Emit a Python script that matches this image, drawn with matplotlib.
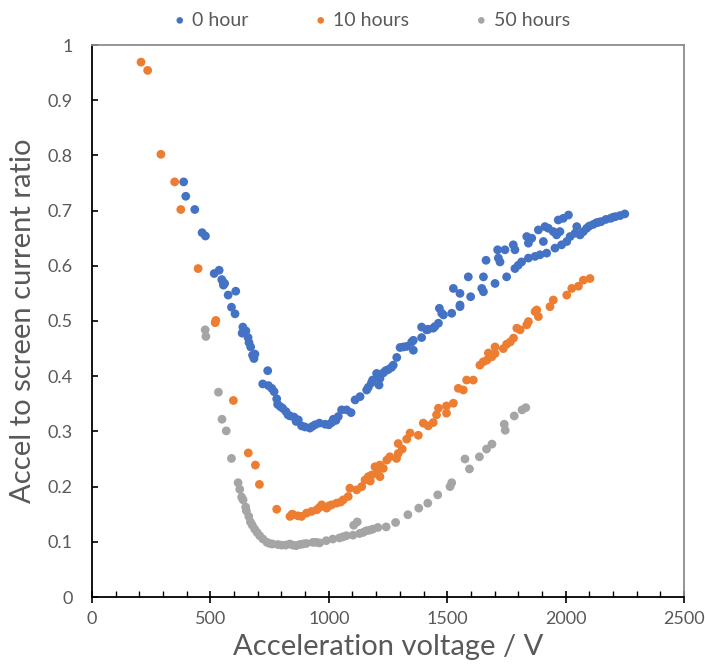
import matplotlib
matplotlib.use("Agg")
import matplotlib.pyplot as plt
from matplotlib.ticker import MultipleLocator, FuncFormatter

plt.rcParams['font.family'] = ['Lato', 'DejaVu Sans']

# Accel/screen current ratio vs acceleration voltage after 0, 10 and 50 hours
v_0h = [387, 396, 434, 465, 479, 516, 537, 548, 554, 555, 575, 607, 589, 604, 637, 634, 659,
        663, 670, 688, 684, 742, 721, 745, 759, 769, 780, 784, 805, 819, 836, 853, 871, 885,
        920, 942, 960, 984, 1012, 1019, 1040, 1054, 1075, 1094, 1111, 1132, 1160, 1167, 1185,
        1202, 1212, 1216, 1230, 1251, 1272, 1287, 1301, 1315, 1329, 1350, 1357, 1357, 1392,
        1392, 1413, 1420, 1441, 1448, 1463, 1467, 1477, 1484, 1519, 1526, 1554, 1554, 1554,
        1589, 1599, 1646, 1653, 1653, 1664, 1702, 1713, 1716, 1723, 1744, 1751, 1779, 1786,
        1786, 1800, 1814, 1836, 1843, 1843, 1857, 1871, 1885, 1892, 1906, 1913, 1920, 1927,
        1948, 1955, 1962, 1969, 1976, 1983, 1990, 2005, 2012, 2019, 2040, 2047, 2061, 2075,
        2089, 2100, 2117, 2130, 2150, 2170, 2190, 2210, 2230, 2250,
        560, 650, 678, 795, 828, 862, 900, 930, 1000, 1030, 1180, 1240, 1265, 2140, 2200]
r_0h = [0.752, 0.726, 0.702, 0.660, 0.654, 0.586, 0.592, 0.575, 0.570, 0.565, 0.547, 0.554,
        0.525, 0.513, 0.489, 0.478, 0.470, 0.461, 0.453, 0.440, 0.432, 0.410, 0.386, 0.383,
        0.378, 0.372, 0.359, 0.349, 0.342, 0.336, 0.328, 0.326, 0.321, 0.310, 0.306, 0.312,
        0.315, 0.313, 0.316, 0.322, 0.327, 0.339, 0.339, 0.334, 0.357, 0.363, 0.375, 0.380,
        0.393, 0.405, 0.384, 0.396, 0.406, 0.412, 0.420, 0.434, 0.452, 0.453, 0.454, 0.462,
        0.447, 0.465, 0.470, 0.489, 0.484, 0.485, 0.487, 0.490, 0.496, 0.523, 0.514, 0.511,
        0.514, 0.559, 0.529, 0.550, 0.526, 0.580, 0.544, 0.559, 0.580, 0.553, 0.610, 0.568,
        0.629, 0.614, 0.607, 0.629, 0.580, 0.638, 0.629, 0.595, 0.601, 0.607, 0.653, 0.641,
        0.614, 0.650, 0.617, 0.665, 0.620, 0.644, 0.671, 0.623, 0.668, 0.662, 0.632, 0.656,
        0.683, 0.662, 0.638, 0.686, 0.644, 0.692, 0.653, 0.659, 0.671, 0.656, 0.662, 0.668,
        0.672, 0.675, 0.678, 0.680, 0.684, 0.686, 0.689, 0.691, 0.694,
        0.568, 0.482, 0.438, 0.345, 0.330, 0.318, 0.308, 0.309, 0.312, 0.320, 0.388, 0.410,
        0.416, 0.679, 0.688]

v_10h = [207, 235, 291, 349, 375, 448, 520, 523, 597, 660, 690, 707, 780, 836, 850, 885, 906,
         927, 949, 970, 991, 1012, 1033, 1061, 1082, 1089, 1118, 1139, 1153, 1167, 1181, 1202,
         1216, 1195, 1216, 1245, 1258, 1286, 1293, 1293, 1329, 1343, 1378, 1399, 1420, 1441,
         1455, 1463, 1497, 1497, 1526, 1547, 1568, 1582, 1610, 1638, 1652, 1667, 1674, 1688,
         1702, 1702, 1737, 1751, 1766, 1780, 1794, 1808, 1836, 1843, 1871, 1878, 1885, 1934,
         1948, 2005, 2026, 2054, 2075, 2103,
         845, 870, 960, 1000, 1050, 1175, 1208, 1230, 1310]
r_10h = [0.969, 0.954, 0.802, 0.752, 0.702, 0.595, 0.497, 0.501, 0.356, 0.261, 0.239, 0.204,
         0.159, 0.146, 0.149, 0.146, 0.152, 0.155, 0.158, 0.167, 0.161, 0.167, 0.170, 0.176,
         0.182, 0.197, 0.194, 0.200, 0.212, 0.218, 0.221, 0.224, 0.218, 0.236, 0.239, 0.248,
         0.254, 0.251, 0.260, 0.278, 0.286, 0.297, 0.293, 0.315, 0.310, 0.316, 0.330, 0.342,
         0.333, 0.346, 0.351, 0.378, 0.375, 0.393, 0.393, 0.420, 0.426, 0.429, 0.442, 0.435,
         0.441, 0.453, 0.450, 0.458, 0.462, 0.469, 0.487, 0.484, 0.493, 0.499, 0.517, 0.520,
         0.508, 0.526, 0.538, 0.547, 0.559, 0.563, 0.574, 0.577,
         0.150, 0.147, 0.162, 0.165, 0.172, 0.210, 0.230, 0.233, 0.268]

v_50h = [478, 481, 534, 549, 567, 589, 617, 624, 632, 638, 649, 652, 662, 669, 677, 687, 697,
         708, 722, 739, 762, 785, 818, 849, 877, 905, 933, 961, 989, 1017, 1045, 1074, 1102,
         1105, 1120, 1130, 1158, 1186, 1207, 1242, 1282, 1334, 1380, 1418, 1460, 1512, 1519,
         1575, 1594, 1636, 1666, 1689, 1741, 1745, 1783, 1816, 1832,
         750, 800, 835, 862, 890, 947, 1060, 1145, 1172]
r_50h = [0.484, 0.472, 0.371, 0.322, 0.301, 0.251, 0.207, 0.195, 0.181, 0.176, 0.163, 0.156,
         0.146, 0.136, 0.130, 0.123, 0.117, 0.111, 0.105, 0.099, 0.096, 0.095, 0.094, 0.094,
         0.095, 0.097, 0.099, 0.098, 0.102, 0.105, 0.107, 0.111, 0.112, 0.130, 0.136, 0.115,
         0.120, 0.123, 0.126, 0.127, 0.135, 0.149, 0.161, 0.170, 0.185, 0.200, 0.207, 0.250,
         0.232, 0.254, 0.268, 0.277, 0.313, 0.302, 0.328, 0.339, 0.343,
         0.097, 0.094, 0.096, 0.093, 0.096, 0.099, 0.109, 0.117, 0.121]

series = [
    ("0 hour", v_0h, r_0h, "#4472C4"),
    ("10 hours", v_10h, r_10h, "#ED7D31"),
    ("50 hours", v_50h, r_50h, "#A5A5A5"),
]

text_grey = "#595959"

fig = plt.figure(figsize=(7.05, 6.66), dpi=100)
ax = fig.add_axes([92 / 705, 69 / 666, 592 / 705, 552 / 666])

for name, v, r, col in series:
    ax.scatter(v, r, s=40, color=col, edgecolors="none", label=name, zorder=3)

ax.set_xlim(0, 2500)
ax.set_ylim(0, 1)
ax.xaxis.set_major_locator(MultipleLocator(500))
ax.xaxis.set_minor_locator(MultipleLocator(100))
ax.yaxis.set_major_locator(MultipleLocator(0.1))
ax.yaxis.set_major_formatter(FuncFormatter(lambda y, _: f"{y:g}"))

ax.tick_params(axis="x", which="major", direction="inout", length=8, width=1.2,
               colors="black", labelcolor=text_grey, labelsize=13, pad=6)
ax.tick_params(axis="x", which="minor", direction="in", length=4, width=1.0, colors="black")
ax.tick_params(axis="y", which="major", direction="in", length=4, width=1.2,
               colors="black", labelcolor=text_grey, labelsize=13, pad=14)

for side in ("left", "bottom"):
    ax.spines[side].set_color("black")
    ax.spines[side].set_linewidth(1.3)
for side in ("top", "right"):
    ax.spines[side].set_color("#8c8c8c")
    ax.spines[side].set_linewidth(1.3)

ax.set_xlabel("Acceleration voltage / V", fontsize=21, color=text_grey, labelpad=5)
ax.set_ylabel("Accel to screen current ratio", fontsize=21, color=text_grey, labelpad=8)

fig.legend(loc="center", bbox_to_anchor=(372 / 705, 1 - 20 / 666), ncol=3, frameon=False,
           fontsize=14, markerscale=0.75, handlelength=0.6, handletextpad=0.35,
           columnspacing=3.4, labelcolor=text_grey, scatterpoints=1)

fig.savefig("out.png", dpi=100)
